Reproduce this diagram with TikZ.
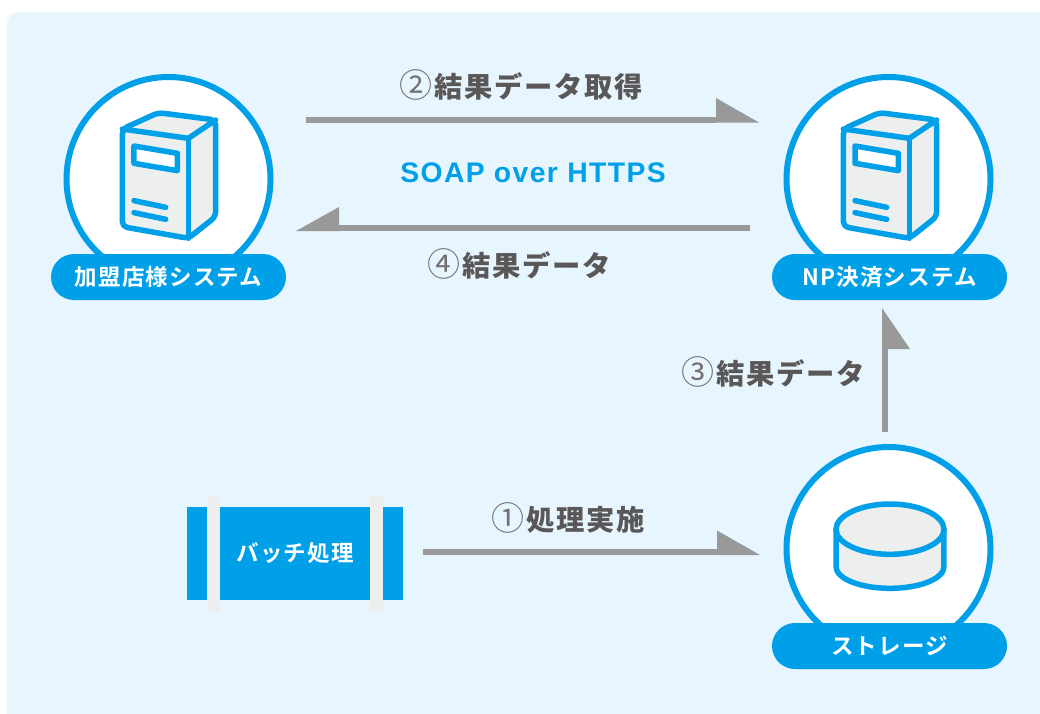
\documentclass[tikz,border=0pt]{standalone}
\usepackage{fontspec}
\usetikzlibrary{arrows.meta}
\newfontfamily\jpbold[LetterSpace=6]{Noto Sans CJK JP Black}
\newfontfamily\jplabel[LetterSpace=5]{Noto Sans CJK JP Bold}
\newfontfamily\jpreg{Noto Sans CJK JP}
\newfontfamily\latinbold[LetterSpace=5]{Liberation Sans Bold}
\definecolor{panelblue}{HTML}{E7F5FE}
\definecolor{brandblue}{HTML}{00A0E9}
\definecolor{iconfill}{HTML}{EDEEEE}
\definecolor{arrowgray}{HTML}{999999}
\definecolor{labelgray}{HTML}{595757}
\newcommand{\declhalf}[4]{% name, length, sign of local side, total height
  \pgfdeclarearrow{name=#1,
    setup code={\pgfarrowssettipend{0pt}\pgfarrowssetlineend{-#2pt}\pgfarrowssetbackend{-#2pt}\pgfarrowssavethe\pgfarrowlength},
    drawing code={
      \pgfpathmoveto{\pgfqpoint{0pt}{#3 3pt}}
      \pgfpathlineto{\pgfqpoint{-#2pt}{#3 3pt}}
      \pgfpathlineto{\pgfqpoint{-#2pt}{\dimexpr #3 3pt - #3 #4pt\relax}}
      \pgfpathclose\pgfusepathqfill},
    defaults={}}}
\declhalf{HalfLeftA}{43}{-}{24.5}
\declhalf{HalfRightA}{43}{+}{24}
\declhalf{HalfRightB}{41}{+}{28}
\tikzset{
  x=1pt,y=-1pt,
  hub/.style={circle,draw=brandblue,fill=white,line width=6pt,minimum size=204pt,inner sep=0pt,outer sep=0pt},
  pill/.style={rounded corners=23pt,fill=brandblue,minimum width=235pt,minimum height=46pt,inner sep=0pt,outer sep=0pt,text=white,font=\jplabel\fontsize{22.5}{24}\selectfont},
  batchbox/.style={fill=brandblue,minimum width=216pt,minimum height=93pt,inner sep=0pt,outer sep=0pt,text=white,font=\jplabel\fontsize{22.5}{24}\selectfont},
  strap/.style={fill=iconfill},
  flow/.style={draw=arrowgray,fill=arrowgray,line width=6pt},
  steplabel/.style={text=labelgray,inner sep=0pt,font=\jpbold\fontsize{28.3}{30}\selectfont},
  iconline/.style={draw=brandblue,line width=5.5pt,line join=round,line cap=round},
}
\newcommand{\circnum}[1]{{\jpreg\fontsize{33}{30}\selectfont\color{labelgray!85}#1}\hspace{2pt}}
\newcommand{\servericon}[2]{%
  \begin{scope}[shift={(#1,#2)},x=0.3333pt,y=-0.3333pt]
    \path[iconline,fill=iconfill,rounded corners=5pt] (247,207) -- (355,158) -- (527,180) -- (527,470) -- (445,535) -- (247,500) -- cycle;
    \path[iconline] (247,207) -- (445,235) -- (527,180);
    \path[iconline] (445,235) -- (445,535);
    \path[iconline,fill=white] (282,258) -- (412,280) -- (412,332) -- (282,310) -- cycle;
    \path[iconline] (282,422) -- (377,442);
    \path[iconline] (282,458) -- (377,478);
  \end{scope}}
\begin{document}
\begin{tikzpicture}
\useasboundingbox (0,0) rectangle (1040,713);
\fill[white] (0,0) rectangle (1040,713);
\fill[panelblue,rounded corners=12pt] (7,12) rectangle (1070,740);

\node[hub] (merchant) at (168.5,179) {};
\node[hub] (np) at (888.5,179) {};
\node[hub] (storage) at (888.5,549) {};
\servericon{40}{60}
\servericon{761}{60}
\begin{scope}[shift={(760,430)},x=0.3333pt,y=-0.3333pt]
  \path[iconline,fill=iconfill] (228,298) -- (228,410)
     .. controls (228,446) and (300.5,475) .. (390,475)
     .. controls (479.5,475) and (552,446) .. (552,410)
     -- (552,298)
     .. controls (552,257) and (479.5,222) .. (390,222)
     .. controls (300.5,222) and (228,257) .. (228,298) -- cycle;
  \path[iconline] (228,298)
     .. controls (228,339) and (300.5,373) .. (390,373)
     .. controls (479.5,373) and (552,339) .. (552,298);
\end{scope}
\node[pill] (merchantlabel) at (168.5,277) {加盟店様システム};
\node[pill] (nplabel) at (889.5,277) {NP決済システム};
\node[pill] (storagelabel) at (889.5,646) {ストレージ};

\node[batchbox] (batch) at (295,553.5) {バッチ処理};
\fill[strap] (207,495) rectangle (220,612);
\fill[strap] (370,495) rectangle (383,612);

\draw[flow,-{HalfLeftA}] ([shift={(137.2,-59.5)}]merchant.center) -- ([shift={(-129.5,-59.5)}]np.center);
\draw[flow,-{HalfRightA}] ([shift={(-138.5,49)}]np.center) -- ([shift={(127.5,49)}]merchant.center);
\draw[flow,-{HalfRightB}] ([shift={(-3.5,-117)}]storage.center) -- ([shift={(-4.5,31)}]nplabel.center);
\draw[flow,-{HalfLeftA}] ([shift={(128,-1.5)}]batch.center) -- ([shift={(-128.5,3)}]storage.center);

\node[steplabel] (step2) at (521.5,85) {\circnum{②}結果データ取得};
\node[text=brandblue,inner sep=0pt,font=\latinbold\fontsize{28.3}{30}\selectfont] (soap) at (533,173) {SOAP over HTTPS};
\node[steplabel] (step4) at (519,264) {\circnum{④}結果データ};
\node[steplabel] (step3) at (773,372) {\circnum{③}結果データ};
\node[steplabel] (step1) at (568,518) {\circnum{①}処理実施};
\end{tikzpicture}
\end{document}
